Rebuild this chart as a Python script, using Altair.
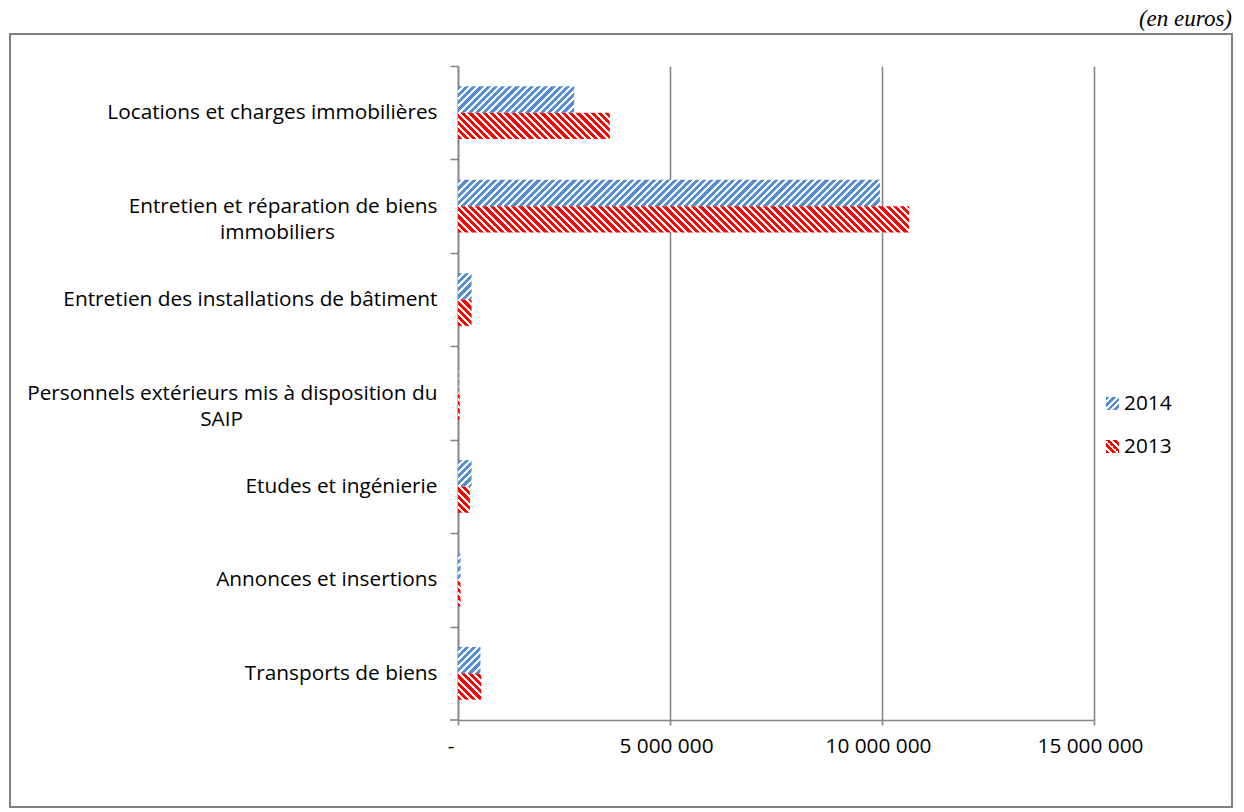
import math
import altair as alt
import pandas as pd

# Expense lines, top to bottom ("\n" marks a wrapped label)
categories = [
    "Locations et charges immobilières",
    "Entretien et réparation de biens\nimmobiliers",
    "Entretien des installations de bâtiment",
    "Personnels extérieurs mis à disposition du\nSAIP",
    "Etudes et ingénierie",
    "Annonces et insertions",
    "Transports de biens",
]
# Non-breaking spaces that centre the second line of a wrapped label
second_line_indent = [0, 19, 0, 36, 0, 0, 0]

years = ["2014", "2013"]
values_2014 = [2740000, 9950000, 320000, 10000, 320000, 60000, 530000]
values_2013 = [3580000, 10640000, 320000, 40000, 280000, 60000, 550000]

x_ticks = [0, 5000000, 10000000, 15000000]
x_max = 15000000

COLORS = {"2014": "#558ED5", "2013": "#FF0000"}
RISING = {"2014": True, "2013": False}

FONT = "Open Sans"
FONT_SIZE = 20.8
GRAY = "#868686"

W, H = 636, 654
PAD_INNER, PAD_OUTER = 0.436, 0.218


def display_label(text, indent):
    # a zero-width space at the end keeps the trailing padding from being trimmed
    if "\n" in text and indent:
        return text + "\u00a0" * indent + "\u200b"
    return text


labels = [display_label(c, n) for c, n in zip(categories, second_line_indent)]

rows = []
for lab, v14, v13 in zip(labels, values_2014, values_2013):
    rows.append({"label": lab, "year": "2014", "value": v14})
    rows.append({"label": lab, "year": "2013", "value": v13})
df = pd.DataFrame(rows)

step = H / (len(labels) - PAD_INNER + 2 * PAD_OUTER)
bar_h = step * (1 - PAD_INNER) / 2


def hatch(w, h, color, rising, period=7.2, duty=0.58):
    """Diagonal stripe fill built from a hard-stop linear gradient."""
    w = max(w, 0.5)
    total = w + h
    k = total / (w * w + h * h)
    stops = []
    n = int(math.ceil(total / period)) + 1
    for i in range(n):
        a = min(i * period / total, 1.0)
        b = min((i + duty) * period / total, 1.0)
        c = min((i + 1) * period / total, 1.0)
        stops += [
            alt.GradientStop(offset=a, color=color),
            alt.GradientStop(offset=b, color=color),
            alt.GradientStop(offset=b, color="white"),
            alt.GradientStop(offset=c, color="white"),
        ]
        if c >= 1.0:
            break
    if rising:
        x1, y1, x2, y2 = 0, 0, k * w, k * h
    else:
        x1, y1, x2, y2 = 0, 1, k * w, 1 - k * h
    return alt.LinearGradient(gradient="linear", stops=stops, x1=x1, y1=y1, x2=x2, y2=y2)


x_enc = alt.X(
    "value:Q",
    scale=alt.Scale(domain=[0, x_max], nice=False, zero=True),
    axis=alt.Axis(
        values=x_ticks,
        title=None,
        grid=True,
        gridColor=GRAY,
        gridWidth=1.6,
        domain=True,
        domainColor=GRAY,
        domainWidth=1.6,
        ticks=True,
        tickSize=5,
        tickColor=GRAY,
        tickWidth=1.6,
        labelFont=FONT,
        labelFontSize=FONT_SIZE,
        labelColor="#000000",
        labelPadding=11,
        labelOffset=-4,
        labelAlign={"condition": {"test": "datum.value == 0", "value": "right"}, "value": "center"},
        labelExpr="datum.value == 0 ? '-' : replace(replace(format(datum.value, ','), ',', ' '), ',', ' ')",
    ),
)
y_enc = alt.Y(
    "label:N",
    sort=labels,
    scale=alt.Scale(domain=labels, paddingInner=PAD_INNER, paddingOuter=PAD_OUTER),
    axis=alt.Axis(
        title=None,
        grid=False,
        domain=True,
        domainColor=GRAY,
        domainWidth=1.6,
        ticks=True,
        tickOffset=-step / 2,
        labelOffset=step / 2,
        tickSize=8,
        tickColor=GRAY,
        tickWidth=1.6,
        labelFont=FONT,
        labelFontSize=FONT_SIZE,
        labelColor="#000000",
        labelPadding=13,
        labelLimit=600,
        labelLineHeight=26,
        labelExpr="split(datum.label, '\\n')",
    ),
)
yoff_enc = alt.YOffset(
    "year:N",
    sort=years,
    scale=alt.Scale(domain=years, paddingInner=0, paddingOuter=0),
)

layers = []
for _, r in df.iterrows():
    w = r["value"] / x_max * W
    fill = hatch(w, bar_h, COLORS[r["year"]], RISING[r["year"]])
    one = df[(df["label"] == r["label"]) & (df["year"] == r["year"])]
    layers.append(
        alt.Chart(one)
        .mark_bar(fill=fill, strokeWidth=0)
        .encode(x=x_enc, y=y_enc, yOffset=yoff_enc)
    )

# Legend, outer frame and unit note, placed in pixels around the plot
legend_df = pd.DataFrame({"year": years})
legend_layers = []
for i, yr in enumerate(years):
    top = 331 + i * 43
    legend_layers.append(
        alt.Chart(legend_df[legend_df["year"] == yr])
        .mark_rect(fill=hatch(13, 13, COLORS[yr], RISING[yr], period=6.5), strokeWidth=0)
        .encode(x=alt.value(648), x2=alt.value(661), y=alt.value(top), y2=alt.value(top + 13))
    )
    legend_layers.append(
        alt.Chart(legend_df[legend_df["year"] == yr])
        .mark_text(font=FONT, fontSize=FONT_SIZE, align="left", baseline="middle", color="#000000")
        .encode(x=alt.value(666), y=alt.value(top + 7), text="year:N")
    )

frame_df = pd.DataFrame({"note": ["(en euros)"]})
frame = (
    alt.Chart(frame_df)
    .mark_rect(fill="transparent", stroke="#808080", strokeWidth=2)
    .encode(x=alt.value(-448), x2=alt.value(774), y=alt.value(-32), y2=alt.value(741))
)
# closing tick of the category axis at the bottom edge
bottom_tick = (
    alt.Chart(frame_df)
    .mark_rule(color=GRAY, strokeWidth=1.6)
    .encode(x=alt.value(-8), x2=alt.value(0), y=alt.value(H))
)
note = (
    alt.Chart(frame_df)
    .mark_text(font="Liberation Serif", fontStyle="italic", fontSize=23, align="right",
               baseline="alphabetic", color="#000000")
    .encode(x=alt.value(774), y=alt.value(-40), text="note:N")
)

chart = (
    alt.layer(*layers, *legend_layers, frame, bottom_tick, note)
    .properties(
        width=W,
        height=H,
        autosize=alt.AutoSizeParams(type="none"),
        padding={"left": 458, "top": 66, "right": 1244 - 458 - W, "bottom": 812 - 66 - H},
        background="white",
    )
    .configure_view(strokeWidth=0)
)

chart.save("out.html", embed_options={"renderer": "svg", "actions": False})
